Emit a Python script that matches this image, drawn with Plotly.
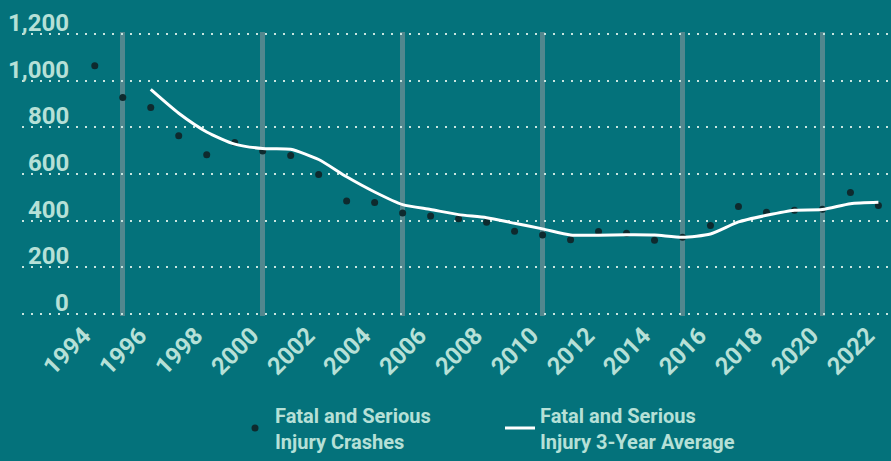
import plotly.graph_objects as go

years = list(range(1994, 2023))
crashes = [1063, 928, 885, 764, 682, 735, 699, 679, 598, 484, 478, 433, 420, 408,
           393, 355, 339, 318, 354, 346, 316, 329, 379, 461, 436, 445, 449, 521, 465]
avg_years = list(range(1996, 2023))
avg3 = [962, 860, 780, 728, 709, 706, 662, 588, 523, 469, 448, 426, 413, 389, 365,
        339, 338, 340, 339, 329, 343, 395, 423, 445, 448, 473, 479]

y_ticks = [0, 200, 400, 600, 800, 1000, 1200]
y_tick_labels = ["0", "200", "400", "600", "800", "1,000", "1,200"]
x_ticks = list(range(1994, 2023, 2))

BG = "#04727b"
MINT = "#b6e0d7"
FONT = "Roboto"

fig = go.Figure()
fig.add_trace(go.Scatter(
    x=years, y=crashes, mode="markers",
    name="Fatal and Serious<br>Injury Crashes",
    marker=dict(color="#0e2a2e", size=7),
))
fig.add_trace(go.Scatter(
    x=avg_years, y=avg3, mode="lines",
    name="Fatal and Serious<br>Injury 3-Year Average",
    line=dict(color="white", width=3, shape="spline", smoothing=0.6),
))

for v, t in zip(y_ticks, y_tick_labels):
    fig.add_annotation(
        x=(71 - 22) / 869, xref="paper", xanchor="right",
        y=v, yref="y", yanchor="bottom", yshift=-5,
        text=t, showarrow=False,
        font=dict(family=FONT, size=24, color=MINT, weight="bold"),
    )

fig.update_layout(
    width=891, height=461,
    paper_bgcolor=BG, plot_bgcolor=BG,
    margin=dict(l=22, r=0, t=32, b=145),
    showlegend=True,
    legend=dict(
        orientation="h", xref="container", yref="container",
        x=235 / 891, xanchor="left", y=(461 - 428) / 461, yanchor="middle",
        font=dict(family=FONT, size=20, color=MINT, weight="bold"),
        bgcolor="rgba(0,0,0,0)", entrywidth=220, entrywidthmode="pixels",
    ),
    xaxis=dict(
        range=[1991.4, 2022.45],
        tickmode="array", tickvals=x_ticks,
        tickangle=-45,
        tickfont=dict(family=FONT, size=24, color=MINT, weight="bold"),
        ticklabeloverflow="allow",
        ticklabelstandoff=-5, ticklabelshift=-11,
        showgrid=False, zeroline=False, showline=False,
        ticks="outside", ticklen=0, tickcolor=BG,
        minor=dict(tick0=1995, dtick=5, showgrid=True, gridcolor="#52878e",
                   gridwidth=5, ticks="inside", ticklen=0),
    ),
    yaxis=dict(
        range=[-8, 1208],
        tickvals=y_ticks, showticklabels=False,
        showgrid=True, gridcolor="#c9e6e0", gridwidth=2, griddash="2px,7px",
        zeroline=False, showline=False,
    ),
)

fig.write_html("out.html", post_script="document.body.style.margin='0';",
               config={"displayModeBar": False})
